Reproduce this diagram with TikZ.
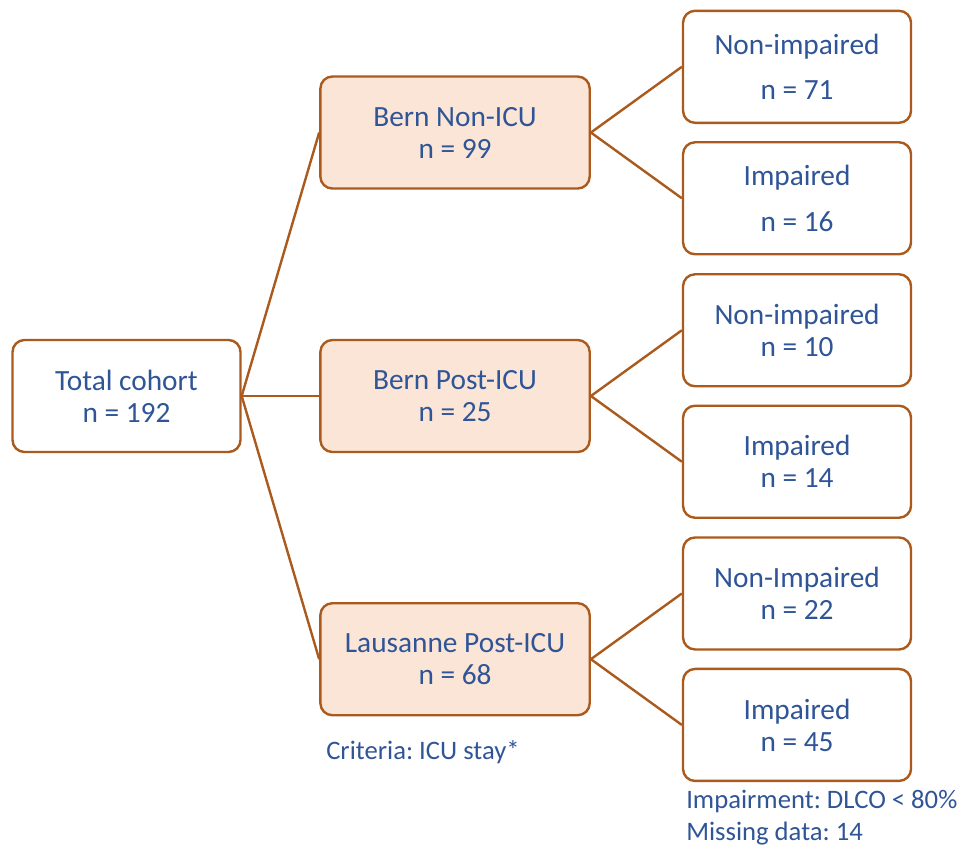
\documentclass[tikz,border=0pt]{standalone}
\usepackage{fontspec}
\setmainfont{Carlito}
\usetikzlibrary{positioning}
\definecolor{boxline}{HTML}{AA5A1C}
\definecolor{boxfill}{HTML}{FBE5D6}
\definecolor{boxtext}{HTML}{2F5597}
\frenchspacing

\begin{document}
\begin{tikzpicture}[x=0.75pt,y=-0.75pt,node distance=2cm,on grid,
    every node/.style={text=boxtext,font=\fontsize{22}{24}\selectfont}]
  \tikzstyle{nodeW}=[rectangle,rounded corners=9pt,line width=1.8pt,draw=boxline,fill=white,minimum width=171pt,minimum height=84pt,align=center]
  \tikzstyle{nodeF}=[nodeW,fill=boxfill,minimum width=202pt]
  \tikzstyle{note}=[inner sep=0pt,align=left,font=\fontsize{20}{24}\selectfont]
  \tikzstyle{link}=[line width=1.8pt,draw=boxline]

  \useasboundingbox (0,0) rectangle (967,853);

  \node[nodeW]          (total)    at (126.5,396) {Total cohort\\n = 192};
  \node[nodeF]          (bernnon)  [above right=197.6pt and 246.4pt of total] {Bern Non-ICU\\n = 99};
  \node[nodeF]          (bernpost) [right=246.4pt of total] {Bern Post-ICU\\n = 25};
  \node[nodeF]          (lausanne) [below right=197.4pt and 246.4pt of total] {Lausanne Post-ICU\\n = 68};

  \node[nodeW]          (nonA) [above right=49.3pt and 256.5pt of bernnon] {Non-impaired\\[10pt]n = 71};
  \node[nodeW]          (impA) [below right=49.3pt and 256.5pt of bernnon] {Impaired\\[10pt]n = 16};
  \node[nodeW]          (nonB) [above right=49.3pt and 256.5pt of bernpost] {Non-impaired\\n = 10};
  \node[nodeW]          (impB) [below right=49.3pt and 256.5pt of bernpost] {Impaired\\n = 14};
  \node[nodeW]          (nonC) [above right=49.3pt and 256.5pt of lausanne] {Non-Impaired\\n = 22};
  \node[nodeW]          (impC) [below right=49.3pt and 256.5pt of lausanne] {Impaired\\n = 45};

  \node[note,anchor=west]       (criteria) at (326,752) {Criteria: ICU stay*};
  \node[note,anchor=north west] (impnote)  at (686,790) {Impairment: DLCO < 80\%\\Missing data: 14};

  \path[link] (total.east) edge (bernnon.west) edge (bernpost.west) edge (lausanne.west);
  \path[link] (bernnon.east) edge (nonA.west) edge (impA.west);
  \path[link] (bernpost.east) edge (nonB.west) edge (impB.west);
  \path[link] (lausanne.east) edge (nonC.west) edge (impC.west);
\end{tikzpicture}
\end{document}
